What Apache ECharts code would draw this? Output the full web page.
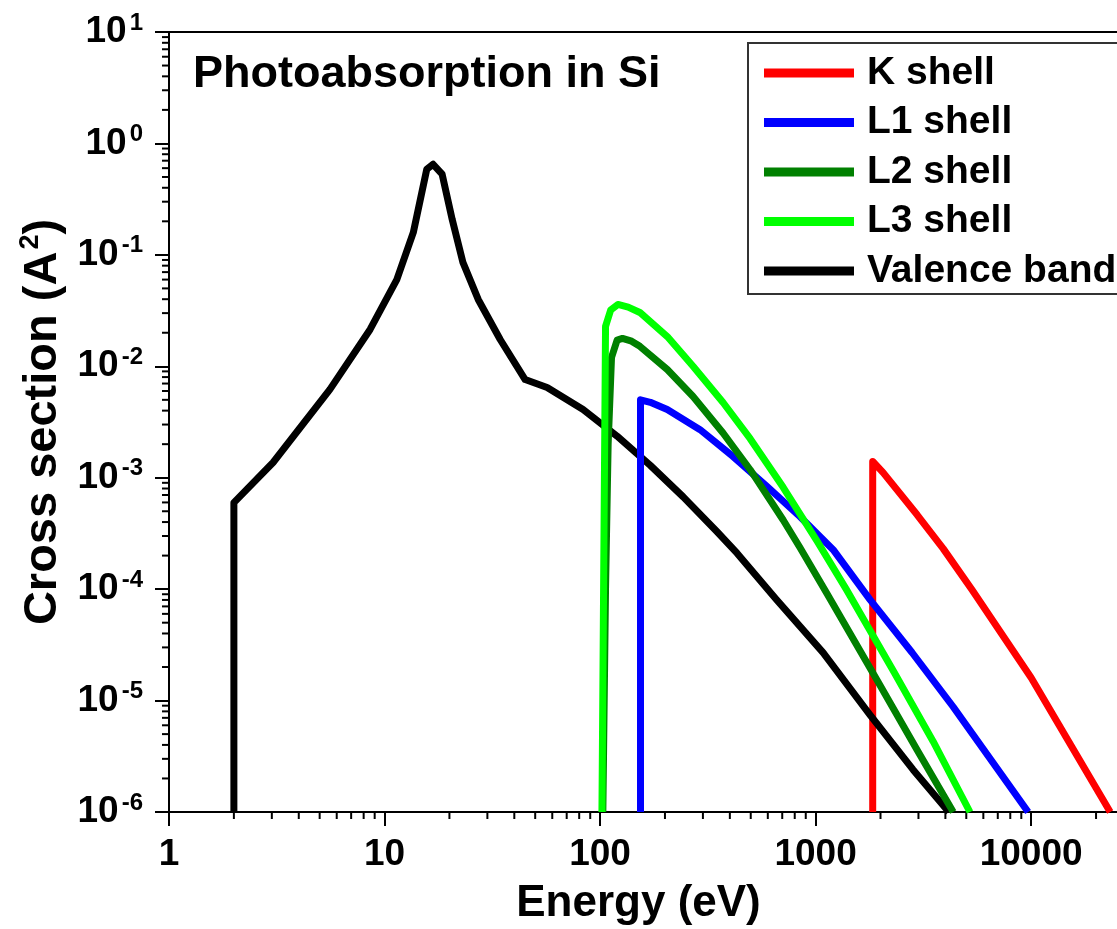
<!DOCTYPE html>
<html>
<head>
<meta charset="utf-8">
<style>
  html, body { margin: 0; padding: 0; background: #fff; }
  #chart { width: 1117px; height: 929px; }
</style>
<script src="https://cdn.jsdelivr.net/npm/echarts@6/dist/echarts.min.js"></script>
</head>
<body>
<div id="chart"></div>
<script>
// energies (eV) and cross sections (A^2)
const kEnergy = [1840, 1840, 2057, 2958, 3907, 5325, 10000, 23270];
const kSigma = [1e-6, 1.4e-3, 1.11e-3, 4.65e-4, 2.31e-4, 9.8e-5, 1.6e-5, 1e-6];

const l1Energy = [154, 154, 171, 205, 291, 414, 596, 847, 1206, 1791, 2800, 4345, 9680];
const l1Sigma = [1e-6, 5.0e-3, 4.75e-3, 4.09e-3, 2.7e-3, 1.55e-3, 8.3e-4, 4.46e-4, 2.26e-4, 8.0e-5, 2.7e-5, 8.8e-6, 1e-6];

const l2Energy = [103, 106, 109, 113, 120, 127, 140, 153, 205, 270, 372, 497, 707, 847, 1130, 1950, 2958, 4350];
const l2Sigma = [1e-6, 1e-4, 2e-3, 0.012, 0.0172, 0.0178, 0.0168, 0.0151, 9.35e-3, 5.36e-3, 2.52e-3, 1.18e-3, 4.17e-4, 2.35e-4, 9.1e-5, 1.47e-5, 3.6e-6, 1e-6];

const l3Energy = [102, 106, 112, 121, 135, 153, 205, 270, 372, 497, 707, 1016, 1386, 2313, 3510, 5200];
const l3Sigma = [1e-6, 0.0228, 0.032, 0.0359, 0.034, 0.0304, 0.0185, 0.01, 4.73e-3, 2.24e-3, 8.2e-4, 2.7e-4, 1.0e-4, 1.8e-5, 4.3e-6, 1e-6];

const valEnergy = [2, 2, 3.04, 5.58, 8.57, 11.4, 13.6, 15.7, 16.8, 18.5, 20.6, 23.1, 27.2, 34.4, 44.9, 56.8, 83.4, 120, 171, 243, 349, 432, 656, 1083, 1791, 2832, 4150];
const valSigma = [1e-6, 5.97e-4, 1.37e-3, 6.2e-3, 0.0214, 0.060, 0.159, 0.586, 0.65, 0.53, 0.208, 0.0857, 0.0398, 0.0174, 0.0076, 0.00646, 4.09e-3, 2.36e-3, 1.29e-3, 6.73e-4, 3.27e-4, 2.1e-4, 8.1e-5, 2.69e-5, 7.4e-6, 2.4e-6, 1e-6];

const xMin = 1, xMax = 30000;
const yMin = 1e-6, yMax = 10;

const font = 'Arial, "Liberation Sans", sans-serif';

function pairs(xs, ys) {
  return xs.map((x, i) => [x, ys[i]]);
}

// minor tick values 2..9 of each decade
function minorTicks(lo, hi) {
  const out = [];
  for (let d = lo; d < hi; d *= 10) {
    for (let m = 2; m <= 9; m++) {
      const v = m * d;
      if (v < hi) out.push(v);
    }
  }
  return out;
}

function tickSeries(values, dir) {
  return {
    type: 'custom',
    silent: true,
    clip: false,
    data: values.map(v => dir === 'x' ? [v, yMin] : [xMin, v]),
    renderItem: (params, api) => {
      const p = api.coord([api.value(0), api.value(1)]);
      const shape = dir === 'x'
        ? { x1: p[0], y1: p[1], x2: p[0], y2: p[1] + 7 }
        : { x1: p[0], y1: p[1], x2: p[0] - 7, y2: p[1] };
      return { type: 'line', shape: shape, style: { stroke: '#000', lineWidth: 2 } };
    }
  };
}

function lineSeries(name, color, xs, ys) {
  return {
    name: name,
    type: 'line',
    showSymbol: false,
    symbol: 'none',
    data: pairs(xs, ys),
    lineStyle: { color: color, width: 7, join: 'round' },
    itemStyle: { color: color }
  };
}

const chart = echarts.init(document.getElementById('chart'));

chart.setOption({
  animation: false,
  textStyle: { fontFamily: font },
  title: {
    text: 'Photoabsorption in Si',
    left: 193,
    top: 52,
    padding: 0,
    textStyle: { fontSize: 45, fontWeight: 'bold', color: '#000', fontFamily: font }
  },
  legend: {
    data: ['K shell', 'L1 shell', 'L2 shell', 'L3 shell', 'Valence band'],
    orient: 'vertical',
    left: 748,
    top: 43,
    padding: [10, 30, 3, 16],
    itemWidth: 90,
    itemHeight: 9,
    itemGap: 9.5,
    icon: 'rect',
    selectedMode: false,
    borderColor: '#333',
    borderWidth: 2,
    textStyle: { fontSize: 39, fontWeight: 'bold', color: '#000', lineHeight: 40, padding: [0, 0, 0, 8], fontFamily: font }
  },
  grid: {
    left: 169,
    top: 32,
    bottom: 117,
    right: -17,
    show: true,
    borderColor: '#000',
    borderWidth: 2,
    outerBoundsMode: 'none'
  },
  xAxis: {
    type: 'log',
    logBase: 10,
    min: xMin,
    max: xMax,
    name: 'Energy (eV)',
    nameLocation: 'middle',
    nameGap: 70,
    nameTextStyle: { fontSize: 44, fontWeight: 'bold', color: '#000', padding: [0, 26, 0, 0], fontFamily: font },
    axisLine: { lineStyle: { color: '#000', width: 2 } },
    axisTick: { length: 14, lineStyle: { color: '#000', width: 2 } },
    splitLine: { show: false },
    axisLabel: {
      fontSize: 37,
      fontWeight: 'bold',
      color: '#000',
      margin: 24,
      showMaxLabel: false,
      fontFamily: font,
      formatter: v => String(Math.round(v))
    }
  },
  yAxis: {
    type: 'log',
    logBase: 10,
    min: yMin,
    max: yMax,
    name: '{n|Cross section (A}{s|2}{n|)}',
    nameLocation: 'middle',
    nameGap: 96,
    nameTextStyle: {
      rich: {
        n: { fontSize: 47, fontWeight: 'bold', color: '#000', lineHeight: 52, fontFamily: font },
        s: { fontSize: 27, fontWeight: 'bold', color: '#000', lineHeight: 14, verticalAlign: 'top', padding: [0, 0, 0, 2], fontFamily: font }
      }
    },
    axisLine: { lineStyle: { color: '#000', width: 2 } },
    axisTick: { length: 14, lineStyle: { color: '#000', width: 2 } },
    splitLine: { show: false },
    axisLabel: {
      margin: 26,
      formatter: v => '{b|10}{s|' + Math.round(Math.log10(v)) + '}',
      rich: {
        b: { fontSize: 37, fontWeight: 'bold', color: '#000', lineHeight: 42, fontFamily: font },
        s: { fontSize: 24, fontWeight: 'bold', color: '#000', lineHeight: 12, verticalAlign: 'top', padding: [0, 0, 0, 3], fontFamily: font }
      }
    }
  },
  series: [
    lineSeries('K shell', '#ff0000', kEnergy, kSigma),
    lineSeries('Valence band', '#000000', valEnergy, valSigma),
    lineSeries('L1 shell', '#0000ff', l1Energy, l1Sigma),
    lineSeries('L2 shell', '#008000', l2Energy, l2Sigma),
    lineSeries('L3 shell', '#00ff00', l3Energy, l3Sigma),
    tickSeries(minorTicks(xMin, xMax), 'x'),
    tickSeries(minorTicks(yMin, yMax), 'y')
  ]
});
</script>
</body>
</html>
